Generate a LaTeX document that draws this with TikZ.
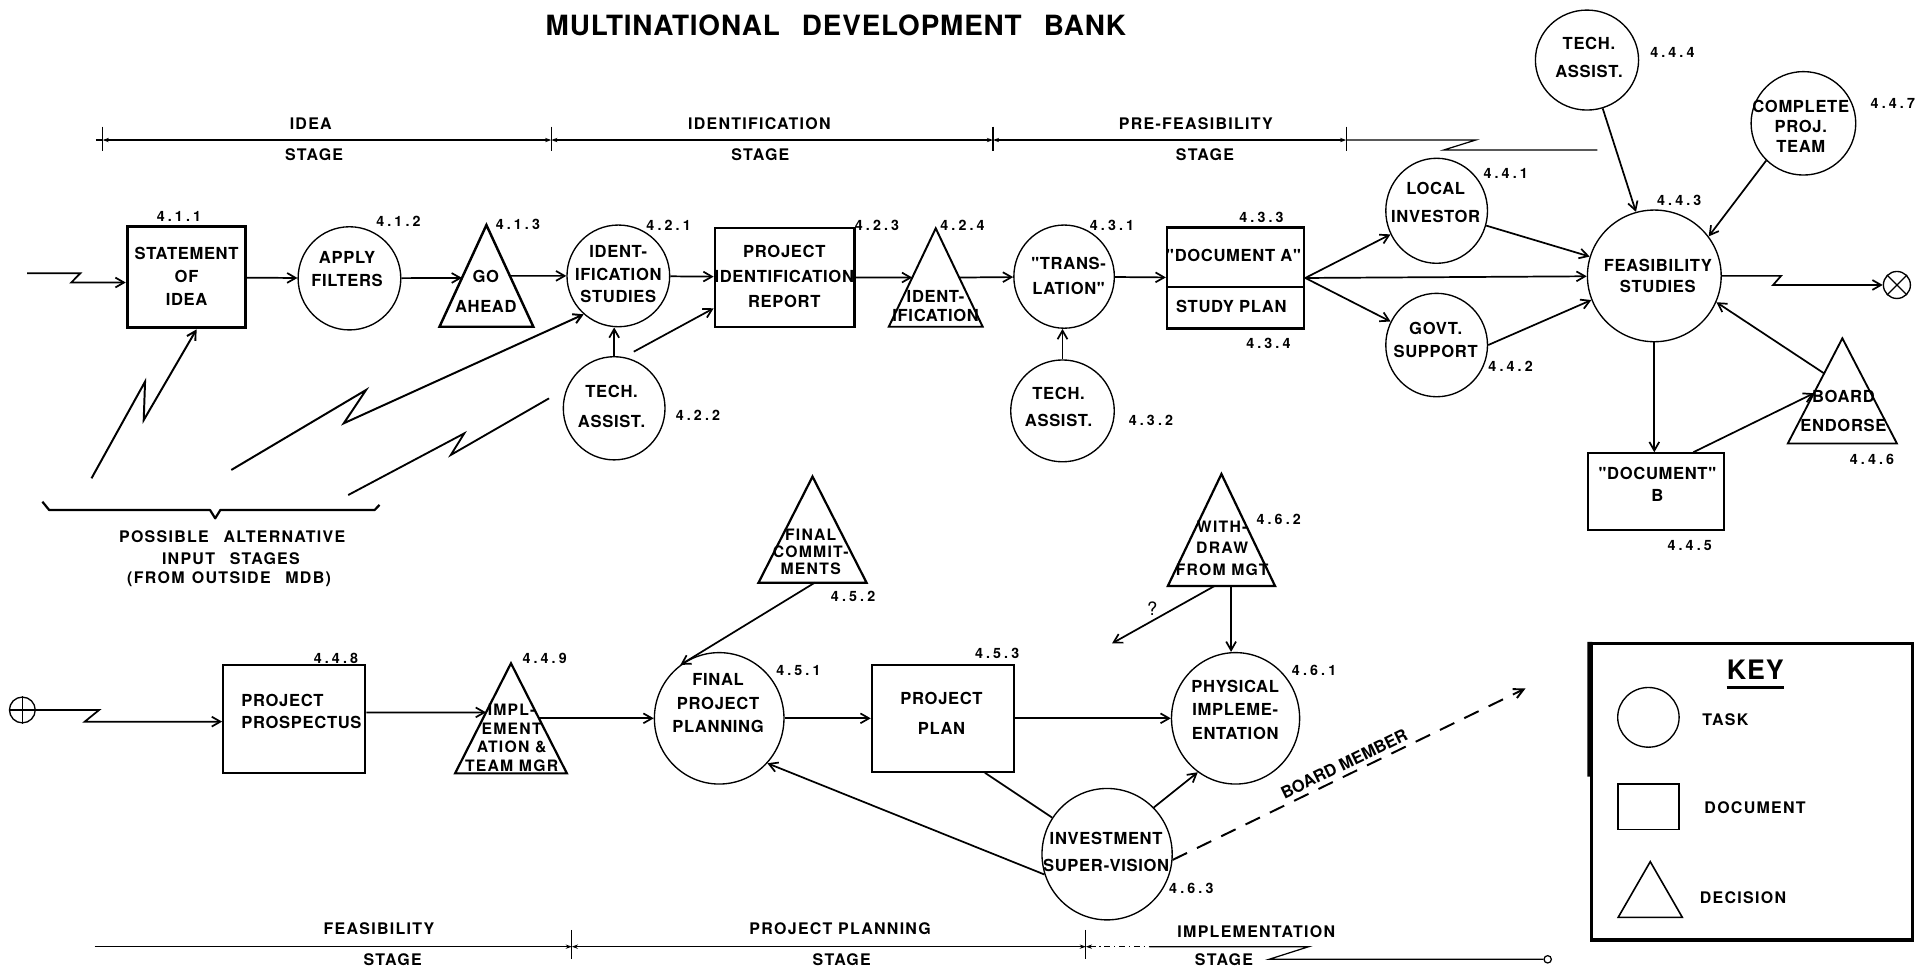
\documentclass[tikz,border=0pt]{standalone}
\usepackage{fontspec}
\setmainfont{TeX Gyre Heros}
\newfontfamily\lsA[LetterSpace=4]{TeX Gyre Heros}
\newfontfamily\lsB[LetterSpace=8]{TeX Gyre Heros}
\newfontfamily\lsT[LetterSpace=3]{TeX Gyre Heros}
\newfontfamily\lsN[LetterSpace=22]{TeX Gyre Heros}
\usetikzlibrary{shapes.geometric,arrows.meta,calc}
\newcommand\mytri[6]{%
  \coordinate (#1-t) at (#2,#3);
  \coordinate (#1-l) at ({#2-#5},#4);
  \coordinate (#1-r) at ({#2+#5},#4);
  \draw[line width=#6,line join=miter] (#1-t) -- (#1-l) -- (#1-r) -- cycle;}
\begin{document}
\begin{tikzpicture}[x=1pt,y=-1pt,
  task/.style 2 args={ellipse,draw,line width=1.1pt,inner sep=0pt,minimum width=#1,minimum height=#2},
  doc/.style 2 args={rectangle,draw,line width=1.8pt,inner sep=0pt,minimum width=#1,minimum height=#2},
  txt/.style={align=center,inner sep=0pt,font=\lsA\bfseries\fontsize{13.5}{#1}\selectfont},
  txt/.default=19,
  stxt/.style={align=center,inner sep=0pt,font=\lsB\bfseries\fontsize{12.8}{#1}\selectfont},
  stxt/.default=15,
  num/.style={inner sep=0pt,font=\lsN\bfseries\fontsize{11.6}{13}\selectfont},
  stage/.style={inner sep=0pt,font=\lsB\bfseries\fontsize{13}{15}\selectfont},
  arr/.style={line width=1.4pt,line join=miter,-{Straight Barb[length=7pt,width=8pt]}},
  ln/.style={line width=1.4pt,line join=miter},
  stg/.style={line width=1pt,{Stealth[length=5pt,width=3.5pt]}-{Stealth[length=5pt,width=3.5pt]}},
  dasharr/.style={line width=1.6pt,dash pattern=on 13pt off 9pt,-{Straight Barb[length=8pt,width=8pt]}}
]
\useasboundingbox (0,0) rectangle (1568,790);

% title
\node[inner sep=0pt,font=\lsT\bfseries\fontsize{22.7}{27}\selectfont] (title) at (680.5,20.4)
  {MULTINATIONAL\hspace{18pt}DEVELOPMENT\hspace{18pt}BANK};

% ---------- top stage line
\coordinate (t0) at (83.6,114); \coordinate (t1) at (448.8,114);
\coordinate (t2) at (808.4,114); \coordinate (t3) at (1096,114);
\coordinate (tz1) at (1201.4,114); \coordinate (tz2) at (1175.4,122.1); \coordinate (tz3) at (1300.5,122.1);
\draw[line width=1pt] (78,114) -- (t0);
\draw[stg] (t0) -- (t1); \draw[stg] (t1) -- (t2); \draw[stg] (t2) -- (t3);
\draw[line width=1pt,line join=miter] (t3) -- (tz1) -- (tz2) -- (tz3);
\foreach \p in {t0,t1,t2,t3} \draw[line width=1pt] ([yshift=11pt]\p) -- ([yshift=-9pt]\p);
\node[stage] (s1a) at (253,101) {IDEA};
\node[stage] (s1b) at (255.7,126.2) {STAGE};
\node[stage] (s2a) at (618.2,101) {IDENTIFICATION};
\node[stage] (s2b) at (619,126.2) {STAGE};
\node[stage] (s3a) at (973.5,101) {PRE-FEASIBILITY};
\node[stage] (s3b) at (981,126.2) {STAGE};

% ---------- row 1
\node[doc={96.3pt}{82.3pt},line width=2.6pt] (st) at (151.8,225.7) {};
\node[txt] (stT) at (151.9,224.9) {STATEMENT\\OF\\IDEA};
\node[num] (stN) at (145.7,176.4) {4.1.1};

\node[task={83.6pt}{84pt}] (af) at (284.5,226.6) {};
\node[txt] (afT) at (282.5,219) {APPLY\\FILTERS};
\node[num] (afN) at (324.4,180.5) {4.1.2};

\mytri{ga}{396}{183.2}{266}{38.2}{2pt}
\node[txt=24.5] (gaT) at (395.5,237.4) {GO\\AHEAD};
\node[num] (gaN) at (421.6,182.4) {4.1.3};

\node[task={83.6pt}{82.8pt}] (is) at (503.4,224.6) {};
\node[txt=18.3] (isT) at (503.4,223.2) {IDENT-\\IFICATION\\STUDIES};
\node[num] (isN) at (544.3,183.2) {4.2.1};

\node[task={82.8pt}{84pt},fill=white] (ta1) at (500,332.4) {};
\node[txt=24.4] (ta1T) at (497.9,331.1) {TECH.\\ASSIST.};
\node[num] (ta1N) at (568.2,337.9) {4.2.2};

\node[doc={113.8pt}{80.6pt}] (pir) at (638.8,225.7) {};
\node[txt=20.4] (pirT) at (638.5,225.2) {PROJECT\\IDENTIFICATION\\REPORT};
\node[num] (pirN) at (714,183.2) {4.2.3};

\mytri{idt}{761.8}{185.9}{266}{38.2}{1.6pt}
\node[txt=15.8] (idtT) at (761.7,249.4) {IDENT-\\IFICATION};
\node[num] (idtN) at (783.6,183.2) {4.2.4};

\node[task={81.8pt}{84pt}] (tr) at (866.3,225.2) {};
\node[txt=20.3] (trT) at (870,224.5) {"TRANS-\\LATION"};
\node[num] (trN) at (905.3,183.2) {4.3.1};

\node[task={84.3pt}{82.9pt}] (ta2) at (865,334.5) {};
\node[txt=21.8] (ta2T) at (861.8,331.1) {TECH.\\ASSIST.};
\node[num] (ta2N) at (937,342.5) {4.3.2};

\node[doc={111.5pt}{82pt},line width=2pt] (dA) at (1005.9,226.3) {};
\coordinate (dAdiv) at (1005.9,233.9);
\draw[line width=1.8pt] (dA.west |- dAdiv) -- (dA.east |- dAdiv);
\node[txt] (dAT1) at (1004.3,207.6) {"DOCUMENT A"};
\node[txt] (dAT2) at (1002.4,249.7) {STUDY PLAN};
\node[num] (dAN1) at (1027,177) {4.3.3};
\node[num] (dAN2) at (1032.6,279.5) {4.3.4};

\node[task={82.8pt}{85.5pt}] (li) at (1169.6,171.6) {};
\node[txt=23.1] (liT) at (1168.8,164.9) {LOCAL\\INVESTOR};
\node[num] (liN) at (1225.8,141.1) {4.4.1};

\node[task={82.8pt}{84.2pt}] (gs) at (1169.6,280.9) {};
\node[txt=19] (gsT) at (1168.8,276.8) {GOVT.\\SUPPORT};
\node[num] (gsN) at (1229.8,298.5) {4.4.2};

\node[task={108.9pt}{107.2pt}] (fs) at (1346.8,224.6) {};
\node[txt=17.7] (fsT) at (1349.7,224.6) {FEASIBILITY\\STUDIES};
\node[num] (fsN) at (1367.1,162.8) {4.4.3};

\node[task={84pt}{81.4pt}] (ta3) at (1292,48.9) {};
\node[txt=23] (ta3T) at (1293.6,46.8) {TECH.\\ASSIST.};
\node[num] (ta3N) at (1361.5,42.9) {4.4.4};

\node[task={85.2pt}{84.2pt}] (cpt) at (1468.2,100.4) {};
\node[txt=16.3] (cptT) at (1466,103.1) {COMPLETE\\PROJ.\\TEAM};
\node[num] (cptN) at (1541,84.1) {4.4.7};

\node[circle,draw,line width=1.1pt,minimum size=22pt,inner sep=0pt] (ex) at (1544.3,232) {};
\draw[line width=1pt] (ex.45) -- (ex.225) (ex.135) -- (ex.315);

\node[doc={110.6pt}{62.4pt}] (dB) at (1348.3,400.3) {};
\node[txt=17.6] (dBT) at (1349.3,394.2) {"DOCUMENT"\\B};
\node[num] (dBN) at (1375.6,443.7) {4.4.5};

\mytri{be}{1499.9}{275.4}{361}{44.4}{1.5pt}
\node[txt=23] (beT) at (1500.8,334.5) {BOARD\\ENDORSE};
\node[num] (beN) at (1524,374) {4.4.6};

% ---------- row 1 connectors
\coordinate (in0) at (22,222.5); \coordinate (in1) at (65.4,222.5); \coordinate (in2) at (58,230);
\draw[arr] (in0) -- (in1) -- (in2) -- (in2 -| st.west);
\draw[arr] (st) -- (af);
\coordinate (ga-in) at ($(ga-t)!0.52!(ga-l)$);
\coordinate (ga-out) at ($(ga-t)!0.5!(ga-r)$);
\draw[arr] (af) -- (ga-in);
\draw[arr] (ga-out) -- (is);
\draw[arr] (is) -- (pir);
\draw[arr] (ta1.north) -- (ta1.north |- is.south);
\coordinate (idt-in) at ($(idt-t)!0.5!(idt-l)$);
\coordinate (idt-out) at ($(idt-t)!0.5!(idt-r)$);
\draw[arr] (pir) -- (idt-in);
\draw[arr] (idt-out) -- (tr);
\draw[arr] (tr) -- (dA);
\draw[arr] (ta2.north) -- (ta2.north |- tr.south);
% alternative inputs
\coordinate (l1a) at (74.5,389.4); \coordinate (l1b) at (118.1,310.7); \coordinate (l1c) at (117,342);
\draw[arr,line width=1.6pt] (l1a) -- (l1b) -- (l1c) -- ($(st.south)+(8.2,0)$);
\coordinate (l2a) at (188.3,382.6); \coordinate (l2b) at (298,317.5); \coordinate (l2c) at (279.9,344.6);
\draw[arr,line width=1.6pt] (l2a) -- (l2b) -- (l2c) -- (is.228);
\coordinate (l3a) at (283.5,403); \coordinate (l3b) at (378,352.8); \coordinate (l3c) at (367,370.4);
\coordinate (l3d) at (447,324.3); \coordinate (l3e) at (516,286.3);
\draw[ln,line width=1.5pt] (l3a) -- (l3b) -- (l3c) -- (l3d);
\draw[arr] (l3e) -- ($(pir.west)+(0,25.3)$);
% feasibility cluster
\draw[arr] (dA.east) -- (li);
\draw[arr] (dA.east) -- (gs);
\draw[arr] (dA.east) -- (fs);
\draw[arr] (li) -- (fs);
\draw[arr] (gs.east) -- (fs.201);
\draw[arr] (ta3.288) -- (fs.106);
\draw[arr] (cpt.225) -- (fs.36);
\coordinate (ez1) at (1450,224.6); \coordinate (ez2) at (1443.5,232);
\draw[arr] (fs.east) -- (ez1) -- (ez2) -- (ex);
\draw[arr] (fs.south) -- (fs.south |- dB.north);
\coordinate (be-in) at ($(be-t)!0.523!(be-l)$);
\coordinate (be-out) at ($(be-t)!0.334!(be-l)$);
\draw[arr] ($(dB.north)+(30.2,0)$) -- (be-in);
\draw[arr] (be-out) -- (fs.337);

% brace
\draw[line width=1.8pt,line join=round] (34.5,408.4) -- (40,415.2) -- (171,415.2) -- (175.2,422) -- (179.4,415.2) -- (305,415.2) -- (309,411);
\node[stage] (alt1) at (189,437) {POSSIBLE\hspace{12pt}ALTERNATIVE};
\node[stage] (alt2) at (188,454.6) {INPUT\hspace{12pt}STAGES};
\node[stage] (alt3) at (186.5,471.6) {(FROM\hspace{6pt}OUTSIDE\hspace{12pt}MDB)};

% ---------- row 2
\node[circle,draw,line width=1.1pt,minimum size=21pt,inner sep=0pt] (en) at (18.2,578) {};
\draw[line width=1pt] (en.north) -- (en.south) (en.west) -- (en.east);

\node[doc={115.6pt}{88.2pt}] (pp) at (239.5,585.5) {};
\node[txt=18,align=left,anchor=west] (ppT) at (196.3,579) {PROJECT\\PROSPECTUS};
\node[num] (ppN) at (273.5,536) {4.4.8};

\mytri{im}{416}{540}{629.6}{45.5}{1.8pt}
\node[stxt=15.2] (imT) at (416.5,600.8) {IMPL-\\EMENT\\ATION \&\\TEAM MGR};
\node[num] (imN) at (443.4,536) {4.4.9};

\node[task={105.5pt}{107pt}] (fpp) at (585.5,584.8) {};
\node[txt=19] (fppT) at (584.6,572.6) {FINAL\\PROJECT\\PLANNING};
\node[num] (fppN) at (650,546) {4.5.1};

\mytri{fc}{661.5}{388}{474.4}{44}{1.8pt}
\node[stxt=13.8] (fcT) at (660,449.2) {FINAL\\COMMIT-\\MENTS};
\node[num] (fcN) at (694.5,485.8) {4.5.2};

\node[doc={115.6pt}{86.8pt}] (ppl) at (767.6,584.8) {};
\node[txt=24.5] (pplT) at (766.5,580.8) {PROJECT\\PLAN};
\node[num] (pplN) at (811.8,531.9) {4.5.3};

\node[task={104.3pt}{107pt}] (pi) at (1005.9,584.8) {};
\node[txt=19.3] (piT) at (1005.6,577.8) {PHYSICAL\\IMPLEME-\\ENTATION};
\node[num] (piN) at (1069.8,546) {4.6.1};

\mytri{wd}{994.4}{385.9}{477}{43.6}{1.8pt}
\node[stxt=17.4] (wdT) at (995,446.2) {WITH-\\DRAW\\FROM MGT};
\node[num] (wdN) at (1041,422.8) {4.6.2};

\node[task={106pt}{107pt}] (inv) at (901.3,695.4) {};
\node[txt=21.7] (invT) at (900.5,693.4) {INVESTMENT\\SUPER-VISION};
\node[num] (invN) at (969.9,723.2) {4.6.3};

% row 2 connectors
\coordinate (ez3) at (80.7,578); \coordinate (ez4) at (69,587.5);
\draw[arr] (en.east) -- (ez3) -- (ez4) -- (ez4 -| pp.west);
\coordinate (im-in) at ($(im-t)!0.446!(im-l)$);
\coordinate (im-out) at ($(im-t)!0.5!(im-r)$);
\draw[arr] ($(pp.east)+(0,-5.5)$) -- (im-in);
\draw[arr] (im-out) -- (fpp);
\draw[arr] (fpp) -- (ppl);
\draw[arr] (ppl) -- (pi);
\coordinate (fc-b) at ($(fc-l)!0.52!(fc-r)$);
\draw[arr] (fc-b) -- (fpp.126);
\coordinate (wd-b) at ($(wd-l)!0.59!(wd-r)$);
\draw[arr] (wd-b) -- (wd-b |- pi.north);
\coordinate (wd-q) at ($(wd-l)!0.437!(wd-r)$);
\coordinate (qend) at (905.3,523.8);
\draw[arr] (wd-q) -- (qend);
\node[inner sep=0pt,font=\fontsize{15}{17}\selectfont] (qm) at (938,495.3) {?};
\draw[ln] ($(ppl.south)+(34.2,0)$) -- (inv);
\draw[arr] (inv.45) -- (pi.235);
\draw[arr] (inv.198) -- (fpp.317);
\coordinate (bm) at (1242,560.4);
\draw[dasharr] (inv.355) -- (bm) node[pos=0.5,above=3.5pt,sloped,inner sep=0pt,font=\bfseries\fontsize{13.5}{15}\selectfont] (bmT) {BOARD MEMBER};

% ---------- bottom stage line
\coordinate (b0) at (77,770.7); \coordinate (b1) at (465.5,770.7);
\coordinate (b2) at (884,770.7); \coordinate (b3) at (935.8,770.7);
\coordinate (bz1) at (1065.5,770.7); \coordinate (bz2) at (1033.1,781);
\node[circle,draw,line width=1pt,minimum size=6pt,inner sep=0pt] (endc) at (1260,781) {};
\draw[line width=1pt,-{Stealth[length=5pt,width=3.5pt]}] (b0) -- (b1);
\draw[stg] (b1) -- (b2);
\draw[line width=1pt,dash pattern=on 5pt off 3pt on 1pt off 3pt,{Stealth[length=5pt,width=3.5pt]}-] (b2) -- (b3);
\draw[line width=1pt,line join=miter] (b3) -- (bz1) -- (bz2) -- (endc);
\foreach \p in {b1,b2} \draw[line width=1pt] ([yshift=13.7pt]\p) -- ([yshift=-10.3pt]\p);
\node[stage] (s4a) at (308.5,755.8) {FEASIBILITY};
\node[stage] (s4b) at (319.7,781.6) {STAGE};
\node[stage] (s5a) at (684,755.8) {PROJECT PLANNING};
\node[stage] (s5b) at (685.3,781.6) {STAGE};
\node[stage] (s6a) at (1022.8,758.5) {IMPLEMENTATION};
\node[stage] (s6b) at (996.5,781.6) {STAGE};

% ---------- key
\node[draw,line width=2.6pt,minimum width=261.7pt,minimum height=241.5pt,inner sep=0pt] (key) at (1426.45,644.55) {};
\draw[line width=4pt] (key.north west) -- ($(key.north west)!0.45!(key.south west)$);
\node[inner sep=0pt,font=\lsT\bfseries\fontsize{21.8}{24}\selectfont] (keyT) at (1429,545.5) {KEY};
\draw[line width=2pt] ([yshift=-6pt]keyT.south west) -- ([yshift=-6pt]keyT.south east);
\node[task={50pt}{48.6pt}] (kc) at (1342,584) {};
\node[stage] (kcT) at (1404.6,585.6) {TASK};
\node[doc={49.7pt}{36.9pt},line width=1.3pt] (kr) at (1342.25,656.75) {};
\node[stage] (krT) at (1428.8,657.3) {DOCUMENT};
\mytri{kt}{1343.5}{701.5}{746.8}{26.1}{1.3pt}
\node[stage] (ktT) at (1419,730.5) {DECISION};
\end{tikzpicture}
\end{document}
